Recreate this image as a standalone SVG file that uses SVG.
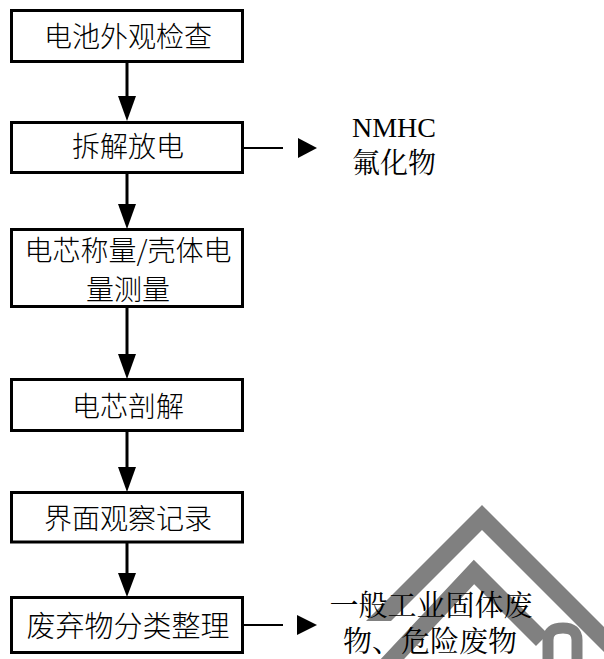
<svg xmlns="http://www.w3.org/2000/svg" width="604" height="659" viewBox="0 0 604 659">
<defs>
<style>
.box{fill:#fff;stroke:#000;stroke-width:3}
.t{font-family:"Noto Sans CJK SC","Liberation Sans",sans-serif;font-size:28px;font-weight:300;fill:#000;text-anchor:middle}
.s{font-family:"Liberation Serif","Noto Serif CJK SC","Noto Sans CJK SC",serif;font-size:28px;fill:#000;text-anchor:middle}
.ln{stroke:#000;stroke-width:3;fill:none}
.sl{stroke:#000;stroke-width:2;fill:none}
.wm{fill:#808080;stroke:none}
.wms{stroke:#808080;fill:none;stroke-width:17}
</style>
</defs>
<rect width="604" height="659" fill="#fff"/>
<g id="watermark">
<polygon class="wm" points="482,505 604,627 604,652 482,530 391,621 366,621"/>
<path class="wms" d="M384,668 L474,572 L542,640"/>
<path d="M548,659 L548,640 Q548,628 563,628 Q577,628 577,640 L577,659" stroke="#808080" stroke-width="11" fill="none"/>
</g>
<g id="connectors">
<line class="ln" x1="127" y1="62" x2="127" y2="100"/>
<polygon points="118,96 136,96 127,121"/>
<line class="ln" x1="127" y1="173" x2="127" y2="208"/>
<polygon points="118,204 136,204 127,229"/>
<line class="ln" x1="127" y1="307" x2="127" y2="358"/>
<polygon points="118,354 136,354 127,379"/>
<line class="ln" x1="127" y1="431" x2="127" y2="470"/>
<polygon points="118,467 136,467 127,492"/>
<line class="ln" x1="127" y1="542" x2="127" y2="577"/>
<polygon points="118,573 136,573 127,597"/>
<line class="sl" x1="243" y1="148" x2="283" y2="148"/>
<polygon points="298,138 317,148 298,158"/>
<line class="sl" x1="243" y1="625" x2="283" y2="625"/>
<polygon points="297,615 317,625 297,635"/>
</g>
<g id="n1"><rect class="box" x="11.5" y="10.5" width="231" height="51"/><text class="t" x="128" y="47">电池外观检查</text></g>
<g id="n2"><rect class="box" x="11.5" y="122.5" width="231" height="50"/><text class="t" x="128" y="157">拆解放电</text></g>
<g id="n3"><rect class="box" x="11.5" y="229.5" width="231" height="77"/><text class="t" x="128" y="261">电芯称量/壳体电</text><text class="t" x="128" y="300">量测量</text></g>
<g id="n4"><rect class="box" x="11.5" y="379.5" width="231" height="51"/><text class="t" x="128" y="417">电芯剖解</text></g>
<g id="n5"><rect class="box" x="11.5" y="492.5" width="231" height="49.5"/><text class="t" x="128" y="529">界面观察记录</text></g>
<g id="n6"><rect class="box" x="11.5" y="597.5" width="231" height="55"/><text class="t" x="128" y="637" style="font-size:29px">废弃物分类整理</text></g>
<g id="out1"><text class="s" x="394" y="137">NMHC</text><text class="s" x="394" y="173">氟化物</text></g>
<g id="out2"><text class="s" x="431" y="616" style="font-size:29px">一般工业固体废</text><text class="s" x="430" y="652" style="font-size:29px">物、危险废物</text></g>
</svg>
